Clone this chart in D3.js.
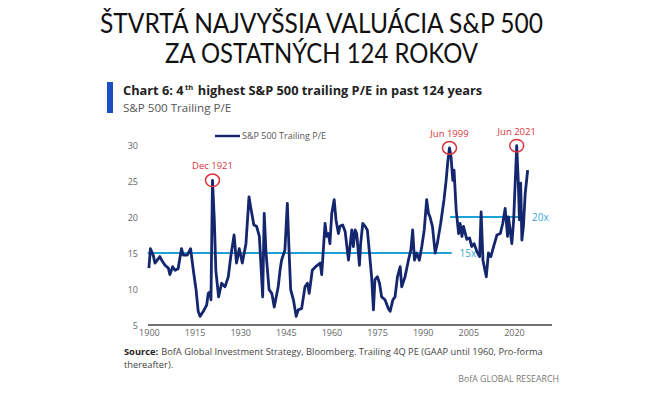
<!DOCTYPE html>
<html><head><meta charset="utf-8">
<script src="https://cdn.jsdelivr.net/npm/d3@7"></script>
<style>body{margin:0;background:#fff}svg{display:block}</style>
</head><body>
<svg id="c" width="661" height="393"></svg>
<script>
const years = [1900.0,1900.5,1901.4,1902.0,1903.6,1904.2,1905.3,1906.4,1906.9,1907.8,1908.6,1909.6,1910.7,1911.3,1912.6,1913.7,1914.6,1915.5,1916.2,1916.8,1917.9,1919.0,1919.5,1920.1,1920.4,1920.9,1921.5,1922.0,1922.9,1923.9,1925.0,1926.1,1926.9,1928.0,1928.8,1929.7,1930.7,1931.9,1932.9,1933.4,1934.5,1935.4,1936.3,1937.4,1937.9,1938.5,1939.5,1940.4,1941.2,1942.5,1943.1,1943.6,1944.7,1945.5,1946.1,1946.6,1947.5,1948.4,1949.1,1950.2,1951.3,1952.1,1952.7,1953.7,1954.8,1956.3,1956.8,1957.9,1958.4,1959.0,1959.5,1960.1,1960.9,1961.5,1962.3,1962.8,1963.7,1964.5,1965.6,1966.7,1967.2,1967.8,1968.3,1969.2,1969.6,1970.3,1971.1,1971.8,1972.5,1973.2,1973.8,1974.3,1975.1,1975.8,1976.5,1977.6,1978.7,1979.3,1980.2,1980.9,1981.7,1982.6,1983.1,1984.2,1985.3,1986.1,1986.7,1987.3,1988.0,1988.9,1989.7,1990.5,1991.3,1991.9,1992.4,1993.2,1994.1,1994.8,1995.9,1997.0,1997.7,1998.2,1998.8,1999.3,1999.9,2000.3,2001.0,2001.8,2002.3,2002.9,2003.4,2004.5,2005.4,2006.1,2006.9,2007.8,2008.7,2009.2,2009.8,2010.9,2011.6,2012.4,2013.3,2014.4,2015.5,2016.3,2017.1,2017.9,2018.2,2019.3,2019.9,2020.9,2021.4,2021.8,2022.2,2022.6,2023.1,2023.7,2024.5];
const peValues = [12.9,15.6,14.7,13.6,14.5,14.0,13.3,12.9,12.0,13.1,12.6,12.8,15.6,14.7,14.7,15.6,12.6,9.9,6.9,6.2,6.9,7.8,9.4,9.6,8.5,25.1,19.6,12.6,8.9,10.8,10.3,11.7,14.5,17.5,13.6,15.6,13.6,16.3,22.8,21.5,18.9,18.7,17.3,8.9,20.5,15.0,9.9,9.4,7.5,10.3,12.6,14.0,15.4,21.9,15.0,9.9,8.5,6.2,7.1,7.3,10.3,10.8,9.4,12.6,13.1,13.6,12.0,19.1,17.3,17.7,16.3,20.5,22.4,19.6,17.7,18.7,18.9,18.0,14.0,18.2,15.9,18.2,17.7,13.3,16.3,19.1,18.7,18.2,15.0,11.7,7.1,11.3,11.7,10.8,8.9,8.5,7.3,6.9,8.5,8.9,11.7,13.1,10.3,11.7,14.0,15.4,18.2,14.0,15.0,14.0,15.9,18.2,22.4,20.5,20.0,18.7,15.0,16.3,19.1,22.4,25.1,27.5,29.6,28.4,25.1,26.5,21.0,17.7,19.1,17.3,18.7,16.9,17.1,15.9,16.3,15.2,14.5,20.7,14.0,11.7,15.0,14.5,15.9,17.5,17.7,19.1,21.2,17.3,20.0,16.3,19.6,29.9,25.1,19.6,24.7,16.8,18.7,23.3,26.5];
const yTicks = [5,10,15,20,25,30];
const xTicks = [1900,1915,1930,1945,1960,1975,1990,2005,2020];
const avgLabels = ["15x","20x"];
const avgValues = [15,20];
const avgStart = [1899.6,1999.0];
const avgEnd = [1999.5,2023.3];
const peakLabels = ["Dec 1921","Jun 1999","Jun 2021"];
const peakYears = [1920.9,1998.8,2020.9];
const peakValues = [25.1,29.6,29.9];

const svg = d3.select("#c");
const x = d3.scaleLinear().domain([1899.7,2032.5]).range([148,552]);
const y = d3.scaleLinear().domain([5,30]).range([325,145]);
const cf = "'Open Sans', sans-serif";

// main title
const tf = "Lato, 'Open Sans', sans-serif";
svg.append("text").attr("x",100).attr("y",33).attr("font-family",tf).attr("font-size",27)
  .attr("fill","#111").attr("textLength",443).attr("lengthAdjust","spacingAndGlyphs")
  .text("ŠTVRTÁ NAJVYŠSIA VALUÁCIA S&P 500");
svg.append("text").attr("x",165).attr("y",63).attr("font-family",tf).attr("font-size",27)
  .attr("fill","#111").attr("textLength",313).attr("lengthAdjust","spacingAndGlyphs")
  .text("ZA OSTATNÝCH 124 ROKOV");

// sequential text pieces helper
function pieces(x0, y0, parts){
  let cx = x0;
  parts.forEach(p=>{
    const t = svg.append("text").attr("x",cx).attr("y",y0+(p.dy||0)).attr("font-family",cf)
      .attr("font-size",p.size).attr("font-weight",p.bold?"bold":"normal").attr("fill",p.fill).text(p.text);
    cx += t.node().getComputedTextLength() + (p.gap||0);
  });
}

// header bar
svg.append("rect").attr("x",107).attr("y",82).attr("width",6).attr("height",31).attr("fill","#1a4fc4");
pieces(123, 95, [
  {text:"Chart 6: 4", size:12.8, bold:true, fill:"#222", gap:1.5},
  {text:"th", size:7.5, bold:true, fill:"#222", dy:-5, gap:4.5},
  {text:"highest S&P 500 trailing P/E in past 124 years", size:12.8, bold:true, fill:"#222"}
]);
svg.append("text").attr("x",123).attr("y",111.5).attr("font-family",cf).attr("font-size",11.6)
  .attr("fill","#555").text("S&P 500 Trailing P/E");

// axes
const yAxis = d3.axisLeft(y).tickValues(yTicks).tickSize(0).tickPadding(0);
const gy = svg.append("g").attr("transform","translate(138,0)").call(yAxis);
gy.select(".domain").remove();
gy.selectAll("text").attr("font-family",cf).attr("font-size",9).attr("fill","#666").attr("dy","0.35em");

const xAxis = d3.axisBottom(x).tickValues(xTicks).tickFormat(d3.format("d")).tickSize(0).tickPadding(0);
const gx = svg.append("g").attr("transform","translate(0,330)").call(xAxis);
gx.select(".domain").remove();
gx.selectAll("text").attr("font-family",cf).attr("font-size",9).attr("fill","#666").attr("dy","0.71em");

svg.append("line").attr("x1",x(1899.7)).attr("x2",x(2032.5)).attr("y1",y(5)).attr("y2",y(5))
  .attr("stroke","#444").attr("stroke-width",1.3);

// average lines
avgValues.forEach((v,i)=>{
  svg.append("line").attr("x1",x(avgStart[i])).attr("x2",x(avgEnd[i])).attr("y1",y(v)).attr("y2",y(v))
    .attr("stroke","#1ea0d8").attr("stroke-width",2);
  svg.append("text").attr("x",x(avgEnd[i])+8).attr("y",y(v)).attr("dy","0.35em")
    .attr("font-family",cf).attr("font-size",10).attr("fill","#3aa6d6").text(avgLabels[i]);
});

// series
const pts = years.map((d,i)=>[d,peValues[i]]);
svg.append("path").datum(pts).attr("fill","none").attr("stroke","#14266e").attr("stroke-width",2.8)
  .attr("stroke-linejoin","round")
  .attr("d",d3.line().x(d=>x(d[0])).y(d=>y(d[1])));

// peaks
peakYears.forEach((py,i)=>{
  svg.append("ellipse").attr("cx",x(py)).attr("cy",y(peakValues[i])).attr("rx",7).attr("ry",6.3)
    .attr("fill","none").attr("stroke","#d9333c").attr("stroke-width",1.5);
  svg.append("text").attr("x",x(py)).attr("y",y(peakValues[i])-11).attr("text-anchor","middle")
    .attr("font-family",cf).attr("font-size",9.5).attr("fill","#d9333c").text(peakLabels[i]);
});

// legend
svg.append("line").attr("x1",215).attr("x2",240).attr("y1",136).attr("y2",136)
  .attr("stroke","#14266e").attr("stroke-width",2.4);
svg.append("text").attr("x",242).attr("y",136).attr("dy","0.35em").attr("font-family",cf)
  .attr("font-size",9).attr("fill","#555").text("S&P 500 Trailing P/E");

// source
pieces(124, 354.5, [
  {text:"Source:", size:9.3, bold:true, fill:"#222", gap:3},
  {text:"BofA Global Investment Strategy, Bloomberg. Trailing 4Q PE (GAAP until 1960, Pro-forma", size:9.3, fill:"#444"}
]);
svg.append("text").attr("x",124).attr("y",368).attr("font-family",cf).attr("font-size",9.3).attr("fill","#444").text("thereafter).");
svg.append("text").attr("x",559).attr("y",382).attr("text-anchor","end").attr("font-family",cf)
  .attr("font-size",8.8).attr("fill","#777").text("BofA GLOBAL RESEARCH");
</script>
</body></html>
